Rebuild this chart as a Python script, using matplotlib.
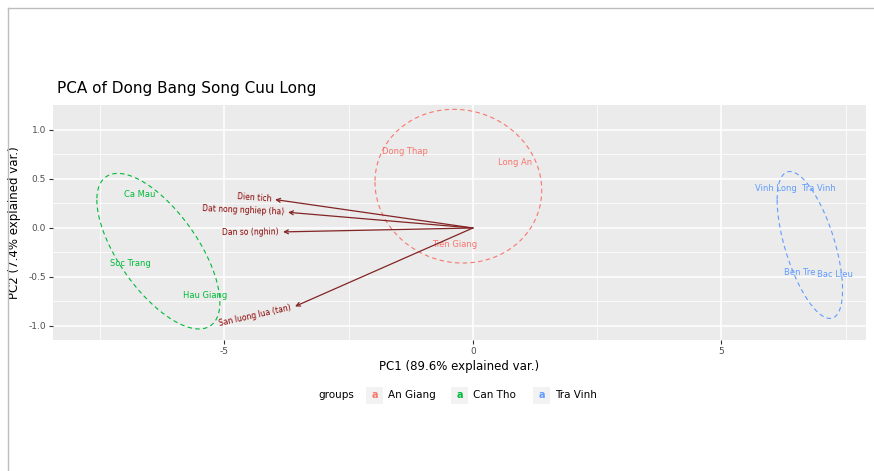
import numpy as np
import matplotlib
matplotlib.use('Agg')
from matplotlib import pyplot as plt
from matplotlib.lines import Line2D
from matplotlib.patches import Rectangle

title = 'PCA of Dong Bang Song Cuu Long'
xlab = 'PC1 (89.6% explained var.)'
ylab = 'PC2 (7.4% explained var.)'

groups = ['An Giang', 'Can Tho', 'Tra Vinh']
colors = ['#F8766D', '#00BA38', '#619CFF']

# PC scores of the observations, per group
obs_names = [['Dong Thap', 'Long An', 'Tien Giang'],
             ['Ca Mau', 'Soc Trang', 'Hau Giang'],
             ['Vinh Long  Tra Vinh', 'Ben Tre', 'Bac Lieu']]
obs_x = [[-1.37, 0.85, -0.36], [-6.70, -6.90, -5.39], [6.48, 6.58, 7.28]]
obs_y = [[0.78, 0.67, -0.17], [0.34, -0.36, -0.69], [0.40, -0.45, -0.47]]

# variable loadings (arrows)
var_names = ['Dien tich', 'Dat nong nghiep (ha)', 'Dan so (nghin)', 'San luong lua (tan)']
var_x = [-3.98, -3.72, -3.82, -3.58]
var_y = [0.29, 0.16, -0.04, -0.80]

xticks = [-5, 0, 5]
yticks = [-1.0, -0.5, 0.0, 0.5, 1.0]

W, H = 874, 471
fig = plt.figure(figsize=(W / 100, H / 100), dpi=100)
fig.patch.set_facecolor('white')

# frame lines of the screenshot
fig.add_artist(Line2D([8 / W, 1], [1 - 8 / H, 1 - 8 / H], color='#BDBDBD', lw=1))
fig.add_artist(Line2D([8 / W, 8 / W], [0, 1 - 8 / H], color='#BDBDBD', lw=1))

ax = fig.add_axes([53 / W, 1 - 340 / H, (866 - 53) / W, (340 - 105) / H])
ax.set_facecolor('#EBEBEB')
for s in ax.spines.values():
    s.set_visible(False)
ax.set_xlim(-8.45, 7.91)
ax.set_ylim(-1.143, 1.255)

ax.set_xticks(xticks)
ax.set_yticks(yticks)
ax.set_xticklabels([str(t) for t in xticks])
ax.set_yticklabels(['%.1f' % t for t in yticks])
ax.set_xticks([-7.5, -2.5, 2.5, 7.5], minor=True)
ax.set_yticks([-0.75, -0.25, 0.25, 0.75], minor=True)
ax.grid(True, which='major', color='white', lw=1.1)
ax.grid(True, which='minor', color='white', lw=0.55)
ax.set_axisbelow(True)
ax.tick_params(which='major', length=3, color='#333333', labelsize=6.5, labelcolor='#4D4D4D', pad=2)
ax.tick_params(which='minor', length=0)
ax.set_xlabel(xlab, fontsize=8.5, labelpad=3)
ax.set_ylabel(ylab, fontsize=8.5, labelpad=5)

# data ellipses (68%), computed like ggbiplot
ed = np.sqrt(-2 * np.log(1 - 0.68))
theta = np.linspace(-np.pi, np.pi, 100)
circle = np.column_stack([np.cos(theta), np.sin(theta)])
for gx, gy, c in zip(obs_x, obs_y, colors):
    pts = np.column_stack([gx, gy])
    sigma = np.cov(pts.T)
    mu = pts.mean(axis=0)
    L = np.linalg.cholesky(sigma)
    ell = circle @ L.T * ed + mu
    ax.plot(ell[:, 0], ell[:, 1], color=c, lw=0.8, ls=(0, (4, 3)))

# observation labels
for names, gx, gy, c in zip(obs_names, obs_x, obs_y, colors):
    for n, x, y in zip(names, gx, gy):
        ax.text(x, y, n, color=c, fontsize=6, ha='center', va='center')

# variable arrows
for n, x, y in zip(var_names, var_x, var_y):
    ax.annotate('', xy=(x, y), xytext=(0, 0),
                arrowprops=dict(arrowstyle='->', color='#832424', lw=0.9,
                                mutation_scale=7, shrinkA=0, shrinkB=0))
    ang = np.degrees(np.arctan(y / x))
    d = 3
    ax.annotate(n, xy=(x, y), xytext=(-d * np.cos(np.radians(ang)), -d * np.sin(np.radians(ang))),
                textcoords='offset points', rotation=ang, rotation_mode='anchor',
                ha='right', va='center', color='darkred', fontsize=5.5)

fig.text(57 / W, 1 - 88 / H, title, fontsize=11, ha='left', va='center')

# legend
ly = 1 - 395 / H
fig.text(318 / W, ly, 'groups', fontsize=7.5, ha='left', va='center')
key_x = [366, 451, 533]
for g, c, kx in zip(groups, colors, key_x):
    fig.add_artist(Rectangle((kx / W, ly - 8.5 / H), 17 / W, 17 / H,
                             transform=fig.transFigure, facecolor='#F2F2F2', edgecolor='none'))
    fig.text((kx + 8.5) / W, ly, 'a', color=c, fontsize=7, ha='center', va='center', fontweight='bold')
    fig.text((kx + 22) / W, ly, g, fontsize=7.5, ha='left', va='center')

fig.savefig('out.png', dpi=100)
